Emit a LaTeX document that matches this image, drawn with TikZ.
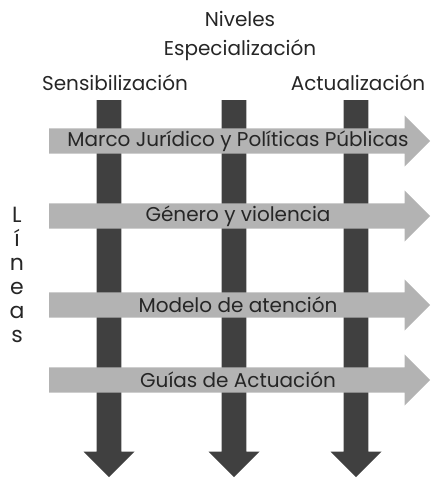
\documentclass[tikz,border=0pt]{standalone}
\usepackage{fontspec}
\setmainfont{Poppins}
\usetikzlibrary{shapes.arrows}

\definecolor{nivelgris}{HTML}{404040}
\definecolor{lineagris}{HTML}{B3B3B3}

\tikzset{
    nivel/.style={single arrow, fill=nivelgris, draw=none, shape border rotate=270,
        minimum width=51pt, minimum height=377pt, single arrow head extend=13pt,
        inner sep=12.25pt, anchor=tail},
    linea/.style={single arrow, fill=lineagris, draw=none,
        minimum width=51pt, minimum height=381pt, single arrow head extend=13pt,
        inner sep=12.5pt, anchor=tail},
    rotulo/.style={font=\fontsize{20}{24}\selectfont, text=black!85, inner sep=0pt}
}

\begin{document}
\begin{tikzpicture}
    \useasboundingbox (0pt,0pt) rectangle (436pt,-478pt);

    \node[rotulo] (niveles) at (240pt,-19pt) {Niveles};
    \node[rotulo] (especial) at (240pt,-50pt) {Especialización};
    \node[rotulo] (sensib) at (115pt,-83pt) {Sensibilización};
    \node[rotulo] (actual) at (358pt,-83pt) {Actualización};

    \node[nivel] (n1) at (109pt,-100pt) {};
    \node[nivel] (n2) at (234pt,-100pt) {};
    \node[nivel] (n3) at (356pt,-100pt) {};

    \node[linea] (l1) at (49pt,-141pt) {};
    \node[linea] (l2) at (49pt,-216pt) {};
    \node[linea] (l3) at (49pt,-305pt) {};
    \node[linea] (l4) at (49pt,-380pt) {};

    \node[rotulo] (marco) at (238pt,-141pt) {Marco Jurídico y Políticas Públicas};
    \node[rotulo] (genero) at (238pt,-216pt) {Género y violencia};
    \node[rotulo] (modelo) at (238pt,-305pt) {Modelo de atención};
    \node[rotulo] (guias) at (238pt,-380pt) {Guías de Actuación};

    \node[rotulo, align=center, font=\fontsize{22}{24}\selectfont, anchor=north]
        (lineas) at (17pt,-207pt) {L\\í\\n\\e\\a\\s};
\end{tikzpicture}
\end{document}
